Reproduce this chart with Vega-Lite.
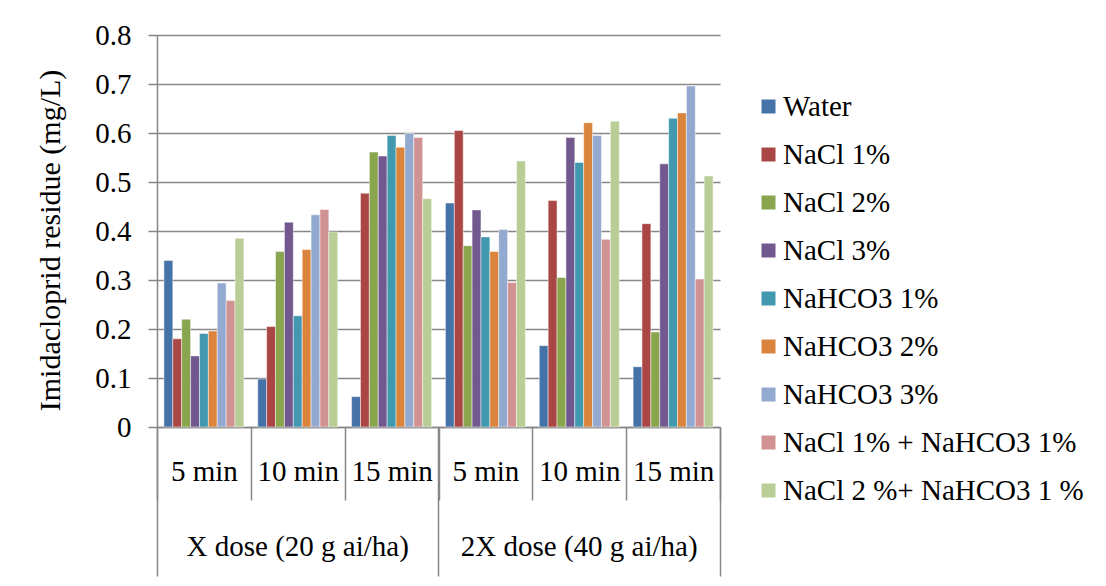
{
  "$schema": "https://vega.github.io/schema/vega-lite/v6.json",
  "autosize": "none",
  "padding": {"left": 157, "top": 35, "right": 386, "bottom": 159},
  "width": 563,
  "height": 392,
  "background": "white",
  "config": {
    "font": "Liberation Serif, Times New Roman, serif",
    "view": {"stroke": null},
    "axis": {"labelFont": "Liberation Serif, Times New Roman, serif", "titleFont": "Liberation Serif, Times New Roman, serif", "labelColor": "#000000", "titleColor": "#000000", "domainColor": "#868686", "tickColor": "#868686", "domainWidth": 1.5, "tickWidth": 1.5, "labelLimit": 400},
    "legend": {"labelFont": "Liberation Serif, Times New Roman, serif", "labelLimit": 400}
  },
  "datasets": {
    "residue": [
      {"cat": "X dose (20 g ai/ha)|5 min", "series": "Water", "value": 0.340},
      {"cat": "X dose (20 g ai/ha)|5 min", "series": "NaCl 1%", "value": 0.180},
      {"cat": "X dose (20 g ai/ha)|5 min", "series": "NaCl 2%", "value": 0.220},
      {"cat": "X dose (20 g ai/ha)|5 min", "series": "NaCl 3%", "value": 0.145},
      {"cat": "X dose (20 g ai/ha)|5 min", "series": "NaHCO3 1%", "value": 0.191},
      {"cat": "X dose (20 g ai/ha)|5 min", "series": "NaHCO3 2%", "value": 0.196},
      {"cat": "X dose (20 g ai/ha)|5 min", "series": "NaHCO3 3%", "value": 0.294},
      {"cat": "X dose (20 g ai/ha)|5 min", "series": "NaCl 1% + NaHCO3 1%", "value": 0.258},
      {"cat": "X dose (20 g ai/ha)|5 min", "series": "NaCl 2 %+ NaHCO3 1 %", "value": 0.385},
      {"cat": "X dose (20 g ai/ha)|10 min", "series": "Water", "value": 0.098},
      {"cat": "X dose (20 g ai/ha)|10 min", "series": "NaCl 1%", "value": 0.205},
      {"cat": "X dose (20 g ai/ha)|10 min", "series": "NaCl 2%", "value": 0.358},
      {"cat": "X dose (20 g ai/ha)|10 min", "series": "NaCl 3%", "value": 0.418},
      {"cat": "X dose (20 g ai/ha)|10 min", "series": "NaHCO3 1%", "value": 0.227},
      {"cat": "X dose (20 g ai/ha)|10 min", "series": "NaHCO3 2%", "value": 0.362},
      {"cat": "X dose (20 g ai/ha)|10 min", "series": "NaHCO3 3%", "value": 0.433},
      {"cat": "X dose (20 g ai/ha)|10 min", "series": "NaCl 1% + NaHCO3 1%", "value": 0.444},
      {"cat": "X dose (20 g ai/ha)|10 min", "series": "NaCl 2 %+ NaHCO3 1 %", "value": 0.398},
      {"cat": "X dose (20 g ai/ha)|15 min", "series": "Water", "value": 0.062},
      {"cat": "X dose (20 g ai/ha)|15 min", "series": "NaCl 1%", "value": 0.477},
      {"cat": "X dose (20 g ai/ha)|15 min", "series": "NaCl 2%", "value": 0.561},
      {"cat": "X dose (20 g ai/ha)|15 min", "series": "NaCl 3%", "value": 0.553},
      {"cat": "X dose (20 g ai/ha)|15 min", "series": "NaHCO3 1%", "value": 0.595},
      {"cat": "X dose (20 g ai/ha)|15 min", "series": "NaHCO3 2%", "value": 0.571},
      {"cat": "X dose (20 g ai/ha)|15 min", "series": "NaHCO3 3%", "value": 0.599},
      {"cat": "X dose (20 g ai/ha)|15 min", "series": "NaCl 1% + NaHCO3 1%", "value": 0.591},
      {"cat": "X dose (20 g ai/ha)|15 min", "series": "NaCl 2 %+ NaHCO3 1 %", "value": 0.466},
      {"cat": "2X dose (40 g ai/ha)|5 min", "series": "Water", "value": 0.457},
      {"cat": "2X dose (40 g ai/ha)|5 min", "series": "NaCl 1%", "value": 0.605},
      {"cat": "2X dose (40 g ai/ha)|5 min", "series": "NaCl 2%", "value": 0.370},
      {"cat": "2X dose (40 g ai/ha)|5 min", "series": "NaCl 3%", "value": 0.443},
      {"cat": "2X dose (40 g ai/ha)|5 min", "series": "NaHCO3 1%", "value": 0.388},
      {"cat": "2X dose (40 g ai/ha)|5 min", "series": "NaHCO3 2%", "value": 0.358},
      {"cat": "2X dose (40 g ai/ha)|5 min", "series": "NaHCO3 3%", "value": 0.403},
      {"cat": "2X dose (40 g ai/ha)|5 min", "series": "NaCl 1% + NaHCO3 1%", "value": 0.295},
      {"cat": "2X dose (40 g ai/ha)|5 min", "series": "NaCl 2 %+ NaHCO3 1 %", "value": 0.543},
      {"cat": "2X dose (40 g ai/ha)|10 min", "series": "Water", "value": 0.166},
      {"cat": "2X dose (40 g ai/ha)|10 min", "series": "NaCl 1%", "value": 0.462},
      {"cat": "2X dose (40 g ai/ha)|10 min", "series": "NaCl 2%", "value": 0.305},
      {"cat": "2X dose (40 g ai/ha)|10 min", "series": "NaCl 3%", "value": 0.591},
      {"cat": "2X dose (40 g ai/ha)|10 min", "series": "NaHCO3 1%", "value": 0.540},
      {"cat": "2X dose (40 g ai/ha)|10 min", "series": "NaHCO3 2%", "value": 0.621},
      {"cat": "2X dose (40 g ai/ha)|10 min", "series": "NaHCO3 3%", "value": 0.595},
      {"cat": "2X dose (40 g ai/ha)|10 min", "series": "NaCl 1% + NaHCO3 1%", "value": 0.383},
      {"cat": "2X dose (40 g ai/ha)|10 min", "series": "NaCl 2 %+ NaHCO3 1 %", "value": 0.624},
      {"cat": "2X dose (40 g ai/ha)|15 min", "series": "Water", "value": 0.123},
      {"cat": "2X dose (40 g ai/ha)|15 min", "series": "NaCl 1%", "value": 0.415},
      {"cat": "2X dose (40 g ai/ha)|15 min", "series": "NaCl 2%", "value": 0.194},
      {"cat": "2X dose (40 g ai/ha)|15 min", "series": "NaCl 3%", "value": 0.537},
      {"cat": "2X dose (40 g ai/ha)|15 min", "series": "NaHCO3 1%", "value": 0.630},
      {"cat": "2X dose (40 g ai/ha)|15 min", "series": "NaHCO3 2%", "value": 0.641},
      {"cat": "2X dose (40 g ai/ha)|15 min", "series": "NaHCO3 3%", "value": 0.696},
      {"cat": "2X dose (40 g ai/ha)|15 min", "series": "NaCl 1% + NaHCO3 1%", "value": 0.302},
      {"cat": "2X dose (40 g ai/ha)|15 min", "series": "NaCl 2 %+ NaHCO3 1 %", "value": 0.512}
    ]
  },
  "data": {"name": "residue"},
  "resolve": {"axis": {"x": "independent"}},
  "layer": [
    {
      "mark": {"type": "bar", "stroke": "#ffffff", "strokeOpacity": 0.6, "strokeWidth": 0.8},
      "encoding": {
        "x": {
          "field": "cat", "type": "nominal",
          "sort": ["X dose (20 g ai/ha)|5 min", "X dose (20 g ai/ha)|10 min", "X dose (20 g ai/ha)|15 min", "2X dose (40 g ai/ha)|5 min", "2X dose (40 g ai/ha)|10 min", "2X dose (40 g ai/ha)|15 min"],
          "scale": {"paddingInner": 0, "paddingOuter": 0},
          "axis": {"orient": "bottom", "title": null, "tickBand": "extent", "tickSize": 73, "labelAngle": 0, "labelFontSize": 29, "labelPadding": -43, "labelExpr": "split(datum.label, '|')[1]", "domain": true}
        },
        "xOffset": {
          "field": "series", "type": "nominal",
          "sort": ["Water", "NaCl 1%", "NaCl 2%", "NaCl 3%", "NaHCO3 1%", "NaHCO3 2%", "NaHCO3 3%", "NaCl 1% + NaHCO3 1%", "NaCl 2 %+ NaHCO3 1 %"],
          "scale": {"paddingInner": 0, "paddingOuter": 0.78}
        },
        "y": {
          "field": "value", "type": "quantitative",
          "scale": {"domain": [0, 0.8], "nice": false},
          "axis": {"title": "Imidacloprid residue (mg/L)", "titleFontSize": 30, "titleFontWeight": "normal", "titlePadding": 29, "titleY": 205, "values": [0, 0.1, 0.2, 0.3, 0.4, 0.5, 0.6, 0.7, 0.8], "labelExpr": "datum.value == 0 ? '0' : format(datum.value, '.1f')", "labelFontSize": 29, "labelPadding": 17, "tickSize": 9, "grid": true, "gridColor": "#868686", "gridWidth": 1.5, "domain": true}
        },
        "color": {
          "field": "series", "type": "nominal",
          "sort": ["Water", "NaCl 1%", "NaCl 2%", "NaCl 3%", "NaHCO3 1%", "NaHCO3 2%", "NaHCO3 3%", "NaCl 1% + NaHCO3 1%", "NaCl 2 %+ NaHCO3 1 %"],
          "scale": {
            "domain": ["Water", "NaCl 1%", "NaCl 2%", "NaCl 3%", "NaHCO3 1%", "NaHCO3 2%", "NaHCO3 3%", "NaCl 1% + NaHCO3 1%", "NaCl 2 %+ NaHCO3 1 %"],
            "range": ["#4572A7", "#AA4643", "#89A54E", "#71588F", "#4198AF", "#DB843D", "#93A9CF", "#D19392", "#B9CD96"]
          },
          "legend": {"orient": "none", "legendX": 597, "legendY": 57, "title": null, "symbolType": "square", "symbolSize": 196, "symbolStrokeWidth": 0, "labelFont": "Liberation Serif, Times New Roman, serif", "labelFontSize": 29, "labelColor": "#000000", "labelLimit": 400, "rowPadding": 18, "labelOffset": 0, "padding": 0}
        }
      }
    },
    {
      "mark": {"type": "point", "opacity": 0},
      "encoding": {
        "x": {"field": "cat", "type": "nominal", "sort": ["X dose (20 g ai/ha)|5 min", "X dose (20 g ai/ha)|10 min", "X dose (20 g ai/ha)|15 min", "2X dose (40 g ai/ha)|5 min", "2X dose (40 g ai/ha)|10 min", "2X dose (40 g ai/ha)|15 min"],
          "axis": {"orient": "bottom", "title": null, "values": ["X dose (20 g ai/ha)|10 min", "2X dose (40 g ai/ha)|10 min"], "ticks": false, "domain": false, "labelAngle": 0, "labelFontSize": 29, "labelPadding": 105, "labelLimit": 400, "labelExpr": "split(datum.label, '|')[0]"}
        },
        "y": {"datum": 0}
      }
    },
    {
      "mark": {"type": "point", "opacity": 0},
      "encoding": {
        "x": {"field": "cat", "type": "nominal", "sort": ["X dose (20 g ai/ha)|5 min", "X dose (20 g ai/ha)|10 min", "X dose (20 g ai/ha)|15 min", "2X dose (40 g ai/ha)|5 min", "2X dose (40 g ai/ha)|10 min", "2X dose (40 g ai/ha)|15 min"],
          "axis": {"orient": "bottom", "title": null, "values": ["X dose (20 g ai/ha)|5 min", "2X dose (40 g ai/ha)|5 min"], "bandPosition": 0, "tickSize": 149, "labels": false, "domain": false}
        },
        "y": {"datum": 0}
      }
    },
    {
      "mark": {"type": "point", "opacity": 0},
      "encoding": {
        "x": {"field": "cat", "type": "nominal", "sort": ["X dose (20 g ai/ha)|5 min", "X dose (20 g ai/ha)|10 min", "X dose (20 g ai/ha)|15 min", "2X dose (40 g ai/ha)|5 min", "2X dose (40 g ai/ha)|10 min", "2X dose (40 g ai/ha)|15 min"],
          "axis": {"orient": "bottom", "title": null, "values": ["2X dose (40 g ai/ha)|15 min"], "bandPosition": 1, "tickSize": 149, "labels": false, "domain": false}
        },
        "y": {"datum": 0}
      }
    }
  ]
}
